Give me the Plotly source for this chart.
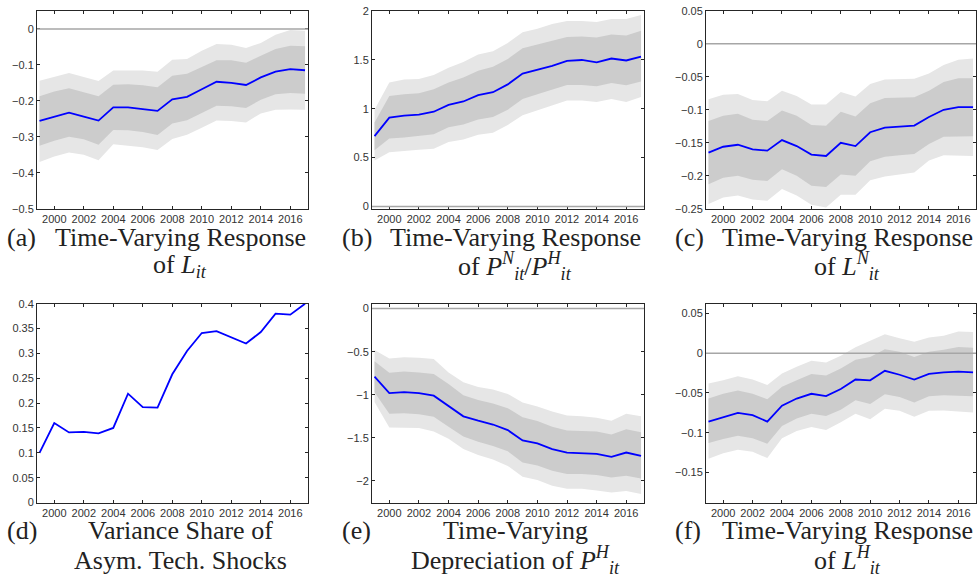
import plotly.graph_objects as go

W, H = 977, 580

years = list(range(1999, 2018))

# (a) response of L_it
a_med = [-0.256, -0.245, -0.233, -0.244, -0.255, -0.218, -0.218, -0.223, -0.228, -0.196,
         -0.189, -0.168, -0.147, -0.150, -0.156, -0.135, -0.119, -0.112, -0.115]
a_in_hi = [-0.187, -0.174, -0.165, -0.176, -0.187, -0.155, -0.154, -0.157, -0.162, -0.130,
           -0.125, -0.106, -0.087, -0.087, -0.094, -0.075, -0.056, -0.047, -0.048]
a_in_lo = [-0.325, -0.311, -0.300, -0.307, -0.322, -0.281, -0.282, -0.287, -0.295, -0.263,
           -0.254, -0.235, -0.214, -0.215, -0.220, -0.197, -0.182, -0.178, -0.180]
a_out_hi = [-0.144, -0.133, -0.123, -0.134, -0.145, -0.116, -0.115, -0.116, -0.119, -0.086,
            -0.084, -0.061, -0.042, -0.044, -0.053, -0.039, -0.016, -0.003, -0.005]
a_out_lo = [-0.370, -0.355, -0.344, -0.350, -0.365, -0.321, -0.324, -0.329, -0.337, -0.306,
            -0.294, -0.275, -0.255, -0.256, -0.260, -0.235, -0.225, -0.224, -0.225]

# (b) response of P^N/P^H
b_med = [0.72, 0.91, 0.93, 0.94, 0.97, 1.04, 1.075, 1.14, 1.17, 1.25,
         1.36, 1.40, 1.44, 1.49, 1.50, 1.475, 1.515, 1.495, 1.535]
b_in_hi = [0.86, 1.13, 1.15, 1.16, 1.20, 1.27, 1.32, 1.39, 1.43, 1.51,
           1.62, 1.66, 1.70, 1.735, 1.74, 1.73, 1.76, 1.75, 1.80]
b_in_lo = [0.575, 0.695, 0.705, 0.72, 0.74, 0.81, 0.84, 0.89, 0.915, 0.99,
           1.10, 1.15, 1.20, 1.245, 1.245, 1.23, 1.265, 1.24, 1.28]
b_out_hi = [0.99, 1.27, 1.30, 1.305, 1.345, 1.42, 1.48, 1.555, 1.59, 1.675,
            1.785, 1.82, 1.87, 1.90, 1.90, 1.89, 1.92, 1.92, 1.96]
b_out_lo = [0.47, 0.555, 0.565, 0.58, 0.59, 0.66, 0.685, 0.735, 0.755, 0.835,
            0.935, 0.99, 1.035, 1.085, 1.085, 1.07, 1.10, 1.07, 1.12]

# (c) response of L^N
c_med = [-0.165, -0.156, -0.153, -0.160, -0.162, -0.146, -0.155, -0.168, -0.170, -0.150,
         -0.155, -0.134, -0.127, -0.125, -0.124, -0.111, -0.100, -0.096, -0.096]
c_in_hi = [-0.117, -0.109, -0.106, -0.115, -0.117, -0.101, -0.109, -0.123, -0.124, -0.103,
           -0.110, -0.090, -0.082, -0.081, -0.081, -0.071, -0.058, -0.052, -0.052]
c_in_lo = [-0.213, -0.203, -0.200, -0.206, -0.208, -0.190, -0.200, -0.215, -0.217, -0.198,
           -0.200, -0.178, -0.171, -0.169, -0.167, -0.152, -0.141, -0.140, -0.140]
c_out_hi = [-0.084, -0.077, -0.076, -0.085, -0.087, -0.071, -0.079, -0.092, -0.092, -0.073,
            -0.080, -0.061, -0.054, -0.053, -0.053, -0.045, -0.032, -0.024, -0.022]
c_out_lo = [-0.243, -0.233, -0.230, -0.236, -0.238, -0.220, -0.230, -0.244, -0.248, -0.229,
            -0.229, -0.207, -0.201, -0.198, -0.195, -0.177, -0.169, -0.169, -0.170]

# (d) variance share
d_share = [0.100, 0.160, 0.141, 0.142, 0.139, 0.150, 0.219, 0.192, 0.191, 0.258,
           0.305, 0.341, 0.345, 0.333, 0.320, 0.343, 0.380, 0.378, 0.400]

# (e) depreciation of P^H
e_med = [-0.79, -0.98, -0.97, -0.98, -1.01, -1.13, -1.25, -1.30, -1.345, -1.41,
         -1.53, -1.565, -1.63, -1.67, -1.675, -1.685, -1.72, -1.67, -1.71]
e_in_hi = [-0.61, -0.745, -0.73, -0.74, -0.76, -0.875, -1.005, -1.06, -1.10, -1.155,
           -1.26, -1.305, -1.37, -1.415, -1.42, -1.425, -1.46, -1.40, -1.435]
e_in_lo = [-0.97, -1.22, -1.215, -1.225, -1.255, -1.37, -1.485, -1.545, -1.595, -1.655,
           -1.785, -1.82, -1.88, -1.92, -1.92, -1.93, -1.96, -1.94, -1.97]
e_out_hi = [-0.48, -0.58, -0.565, -0.57, -0.585, -0.74, -0.855, -0.91, -0.94, -0.99,
            -1.09, -1.135, -1.195, -1.24, -1.25, -1.265, -1.30, -1.22, -1.25]
e_out_lo = [-1.085, -1.38, -1.38, -1.385, -1.425, -1.51, -1.63, -1.70, -1.75, -1.825,
            -1.95, -1.99, -2.055, -2.09, -2.09, -2.11, -2.135, -2.115, -2.15]

# (f) response of L^H
f_med = [-0.086, -0.080, -0.075, -0.078, -0.086, -0.066, -0.057, -0.051, -0.054, -0.045,
         -0.033, -0.034, -0.022, -0.027, -0.033, -0.026, -0.024, -0.023, -0.024]
f_in_hi = [-0.057, -0.051, -0.047, -0.051, -0.058, -0.042, -0.034, -0.026, -0.028, -0.019,
           -0.008, -0.0045, 0.005, 0.002, -0.0045, 0.002, 0.0045, 0.008, 0.007]
f_in_lo = [-0.113, -0.108, -0.104, -0.107, -0.114, -0.0915, -0.082, -0.076, -0.079, -0.071,
           -0.059, -0.064, -0.0515, -0.055, -0.062, -0.054, -0.053, -0.0535, -0.054]
f_out_hi = [-0.038, -0.034, -0.029, -0.033, -0.040, -0.0255, -0.017, -0.0095, -0.0115, -0.003,
            0.0075, 0.0155, 0.024, 0.019, 0.0145, 0.020, 0.022, 0.0275, 0.027]
f_out_lo = [-0.133, -0.126, -0.1215, -0.124, -0.132, -0.107, -0.098, -0.093, -0.0965, -0.087,
            -0.076, -0.083, -0.070, -0.0725, -0.080, -0.0725, -0.072, -0.073, -0.0745]

captions = [
    ("(a)", ["Time-Varying Response", "of <i>L</i><sub><i>it</i></sub>"]),
    ("(b)", ["Time-Varying Response",
             "of <i>P</i><sup><i>N</i></sup><sub><i>it</i></sub>/<i>P</i><sup><i>H</i></sup><sub><i>it</i></sub>"]),
    ("(c)", ["Time-Varying Response", "of <i>L</i><sup><i>N</i></sup><sub><i>it</i></sub>"]),
    ("(d)", ["Variance Share of", "Asym. Tech. Shocks"]),
    ("(e)", ["Time-Varying", "Depreciation of <i>P</i><sup><i>H</i></sup><sub><i>it</i></sub>"]),
    ("(f)", ["Time-Varying Response", "of <i>L</i><sup><i>H</i></sup><sub><i>it</i></sub>"]),
]

panels = [
    dict(med=a_med, bands=(a_out_hi, a_out_lo, a_in_hi, a_in_lo), yr=[-0.5, 0.05], dt=0.1, zero=True),
    dict(med=b_med, bands=(b_out_hi, b_out_lo, b_in_hi, b_in_lo), yr=[-0.024, 2.003], dt=0.5, zero=True),
    dict(med=c_med, bands=(c_out_hi, c_out_lo, c_in_hi, c_in_lo), yr=[-0.25, 0.05], dt=0.05, zero=True),
    dict(med=d_share, bands=None, yr=[0, 0.4], dt=0.05, zero=False),
    dict(med=e_med, bands=(e_out_hi, e_out_lo, e_in_hi, e_in_lo), yr=[-2.25, 0.057], dt=0.5, zero=True),
    dict(med=f_med, bands=(f_out_hi, f_out_lo, f_in_hi, f_in_lo), yr=[-0.188, 0.0625], dt=0.05, zero=True),
]

# pixel boxes of the six axes
col_px = [(37, 308), (372, 644), (706, 976)]
row_px = [(5, 207), (304, 507)]
cap_center = [180, 515, 847]
cap_label = [5, 340, 673]
cap_rows = [(236, 266), (536, 566)]

serif = dict(family="Liberation Serif", size=26, color="#222222")

fig = go.Figure()

for i, p in enumerate(panels):
    r, c = divmod(i, 3)
    n = i + 1
    xa = "x" if n == 1 else f"x{n}"
    ya = "y" if n == 1 else f"y{n}"
    if p["bands"]:
        out_hi, out_lo, in_hi, in_lo = p["bands"]
        for hi, lo, col in [(out_hi, out_lo, "#e6e6e6"), (in_hi, in_lo, "#cccccc")]:
            fig.add_trace(go.Scatter(
                x=years + years[::-1], y=hi + lo[::-1], fill="toself",
                fillcolor=col, line=dict(width=0), mode="lines",
                hoverinfo="skip", showlegend=False, xaxis=xa, yaxis=ya))
    fig.add_trace(go.Scatter(x=years, y=p["med"], mode="lines",
                             line=dict(color="#0000ff", width=1.8),
                             showlegend=False, xaxis=xa, yaxis=ya))
    if p["zero"]:
        fig.add_shape(type="line", xref=f"{xa} domain", yref=ya, x0=0, x1=1, y0=0, y1=0,
                      line=dict(color="#a6a6a6", width=1.5), layer="above")

    x0, x1 = col_px[c]
    y0, y1 = row_px[r]
    axis_style = dict(showline=True, linecolor="#262626", linewidth=1, mirror="allticks",
                      ticks="inside", ticklen=3, tickcolor="#262626", showgrid=False,
                      zeroline=False, tickfont=dict(family="Liberation Sans", size=11, color="#333333"))
    fig.update_layout({
        ("xaxis" if n == 1 else f"xaxis{n}"): dict(
            domain=[x0 / W, x1 / W], range=[1998.83, 2017.2], anchor=ya,
            tickmode="linear", tick0=2000, dtick=2, **axis_style),
        ("yaxis" if n == 1 else f"yaxis{n}"): dict(
            domain=[1 - y1 / H, 1 - y0 / H], range=p["yr"], anchor=xa,
            tickmode="linear", tick0=0, dtick=p["dt"], **axis_style),
    })

    lab, lines = captions[i]
    fig.add_annotation(x=cap_label[c] / W, y=1 - cap_rows[r][0] / H, xref="paper", yref="paper",
                       text=lab, showarrow=False, xanchor="left", yanchor="middle", font=serif)
    for k, t in enumerate(lines):
        fig.add_annotation(x=cap_center[c] / W, y=1 - cap_rows[r][k] / H, xref="paper", yref="paper",
                           text=t, showarrow=False, xanchor="center", yanchor="middle", font=serif)

fig.update_layout(width=W, height=H, margin=dict(l=0, r=0, t=0, b=0),
                  plot_bgcolor="white", paper_bgcolor="white")

fig.write_html("out.html", config={"displayModeBar": False},
               post_script="document.body.style.margin='0';")
